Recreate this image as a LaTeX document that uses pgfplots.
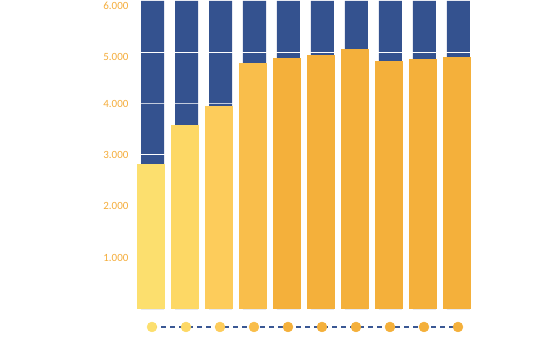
\documentclass[border=0pt]{standalone}
\usepackage{pgfplots}
\pgfplotsset{compat=1.18}
\usepackage{fontspec}
\setmainfont{Carlito}
\definecolor{cblue}{HTML}{34528F}
\definecolor{cblueedge}{HTML}{5A75AA}
\definecolor{dashblue}{HTML}{3A5894}
\definecolor{lab}{HTML}{F4AC3A}
\definecolor{y1}{HTML}{FCDF6E}
\definecolor{y2}{HTML}{FDD865}
\definecolor{y3}{HTML}{FDCC5B}
\definecolor{y4}{HTML}{F9BE4B}
\definecolor{y5}{HTML}{F4B03B}
\begin{document}
\begin{tikzpicture}
\useasboundingbox (0,0) rectangle (555pt,353pt);
\begin{axis}[
  at={(135pt,18.1pt)}, anchor=south west,
  scale only axis, width=340pt, height=334.1pt,
  xmin=-0.5, xmax=9.5, ymin=-500, ymax=6000,
  clip=false,
  axis line style={draw=none},
  major tick length=0pt,
  xtick=\empty,
  ytick={1000,2000,3000,4000},
  extra y ticks={5000,6000},
  extra y tick style={yticklabel style={yshift=-5pt}},
  /pgf/number format/assume math mode=true,
  /pgf/number format/1000 sep={.},
  scaled y ticks=false,
  yticklabel style={font=\fontsize{11}{13}\selectfont, text=lab, anchor=east, xshift=-3pt},
]
% background blue bars (full scale)
\addplot[ybar, bar width=23pt, bar shift=0.5pt, fill=cblue, draw=none]
  coordinates {(0,6000) (1,6000) (2,6000) (3,6000) (4,6000) (5,6000) (6,6000) (7,6000) (8,6000) (9,6000)};
% gridlines over blue bars
\addplot[white, line width=1pt, forget plot] coordinates {(-0.5,3000) (9.5,3000)};
\addplot[white, opacity=0.7, line width=1.2pt, forget plot] coordinates {(-0.5,4000) (9.5,4000)};
\addplot[white, line width=1pt, forget plot] coordinates {(-0.5,5000) (9.5,5000)};
% value bars
\addplot[ybar, bar width=28pt, bar shift=-1pt, fill=y1, draw=none] coordinates {(0,2831)};
\addplot[ybar, bar width=28pt, bar shift=-1pt, fill=y2, draw=none] coordinates {(1,3578)};
\addplot[ybar, bar width=28pt, bar shift=-1pt, fill=y3, draw=none] coordinates {(2,3960)};
\addplot[ybar, bar width=28pt, bar shift=-1pt, fill=y4, draw=none] coordinates {(3,4795)};
\addplot[ybar, bar width=28pt, bar shift=-1pt, fill=y5, draw=none] coordinates {(4,4887)};
\addplot[ybar, bar width=28pt, bar shift=-1pt, fill=y5, draw=none] coordinates {(5,4940)};
\addplot[ybar, bar width=28pt, bar shift=-1pt, fill=y5, draw=none] coordinates {(6,5056)};
\addplot[ybar, bar width=28pt, bar shift=-1pt, fill=y5, draw=none] coordinates {(7,4829)};
\addplot[ybar, bar width=28pt, bar shift=-1pt, fill=y5, draw=none] coordinates {(8,4862)};
\addplot[ybar, bar width=28pt, bar shift=-1pt, fill=y5, draw=none] coordinates {(9,4912)};
% dashed connector and dots
\addplot[dashblue, line width=1.5pt, dash pattern=on 5pt off 4pt] coordinates {(0,-346) (9,-346)};
\addplot[y1, only marks, mark=*, mark size=5pt, mark options={fill=y1, draw=y1}] coordinates {(0,-346)};
\addplot[y2, only marks, mark=*, mark size=5pt, mark options={fill=y2, draw=y2}] coordinates {(1,-346)};
\addplot[y3, only marks, mark=*, mark size=5pt, mark options={fill=y3, draw=y3}] coordinates {(2,-346)};
\addplot[y4, only marks, mark=*, mark size=5pt, mark options={fill=y4, draw=y4}] coordinates {(3,-346)};
\addplot[y5, only marks, mark=*, mark size=5pt, mark options={fill=y5, draw=y5}] coordinates {(4,-346) (5,-346) (6,-346) (7,-346) (8,-346) (9,-346)};
\end{axis}
\end{tikzpicture}
\end{document}
